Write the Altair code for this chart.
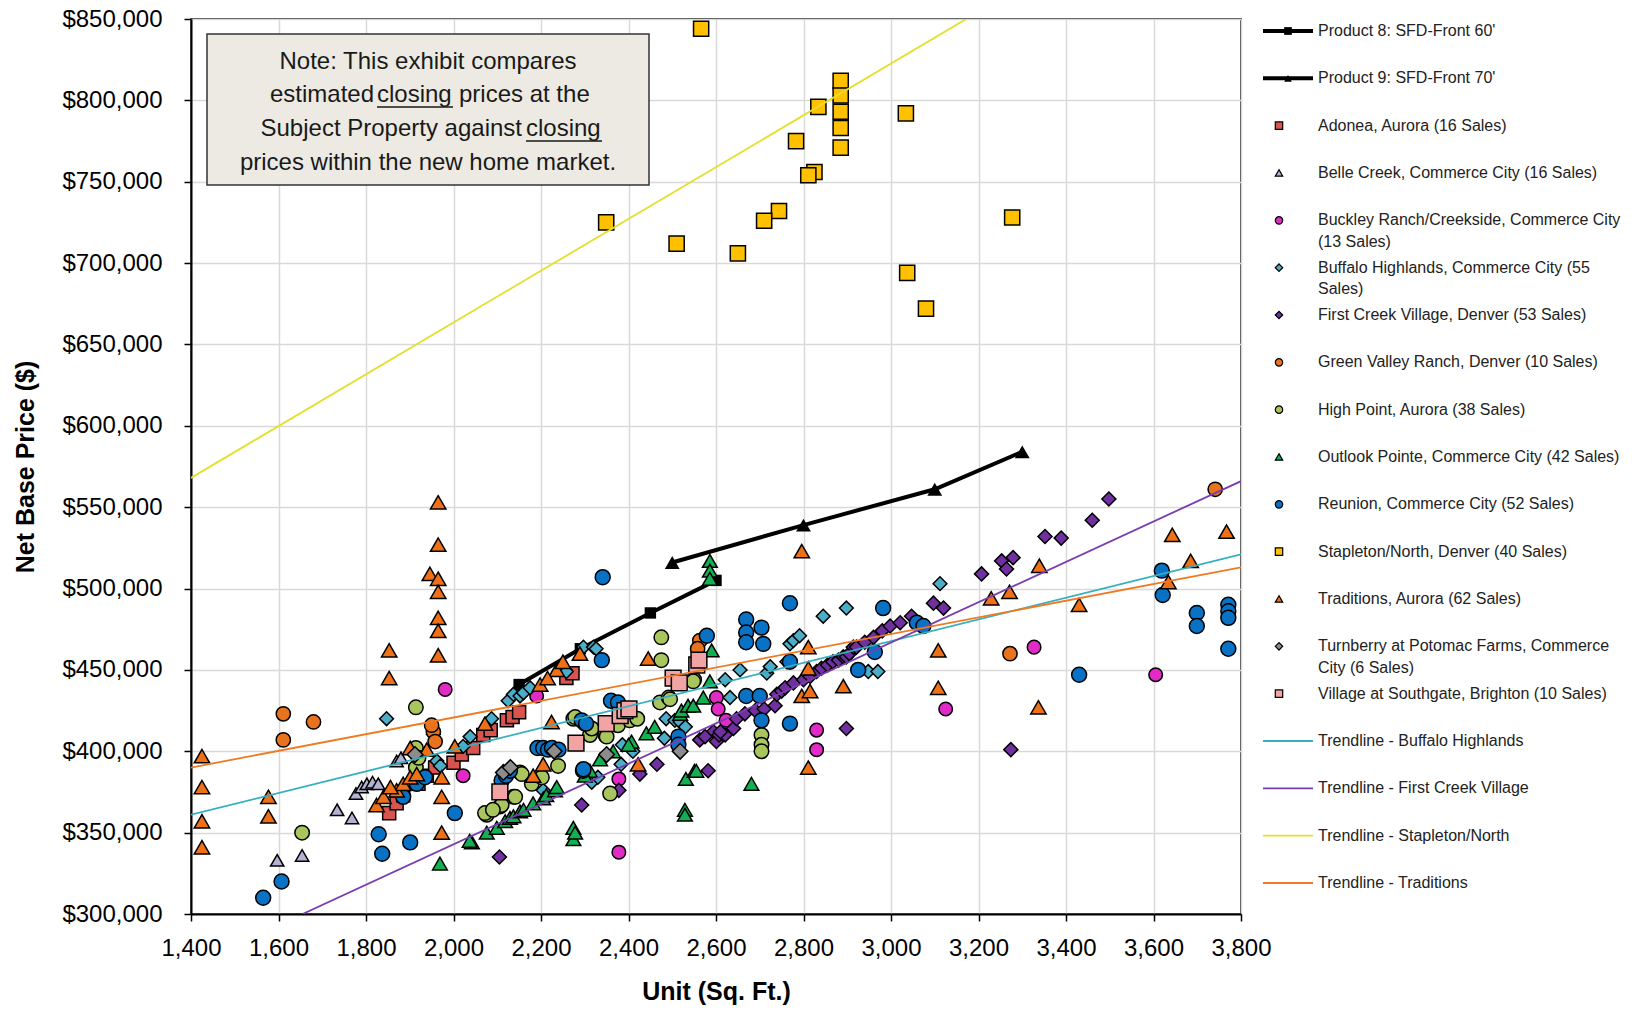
import altair as alt
import pandas as pd

# ---------------------------------------------------------------------------
# Unit size (sq. ft.) and net base price ($000s) for each community
# ---------------------------------------------------------------------------
PRODUCT8_SQFT = [2150, 2290, 2450, 2600]
PRODUCT8_PRICE = [441, 463, 485, 505]
PRODUCT9_SQFT = [2500, 2800, 3100, 3300]
PRODUCT9_PRICE = [516, 539, 561, 584]

ADONEA_SQFT = [1853, 1870, 1885, 1920, 1939, 1958, 2000, 2019, 2045, 2068, 2085, 2122, 2135, 2150, 2258, 2272]
ADONEA_PRICE = [362, 368, 373, 380, 385, 390, 393, 398, 402, 410, 413, 419, 421, 424, 445, 448]

BELLE_SQFT = [1597, 1654, 1734, 1768, 1777, 1790, 1802, 1815, 1828, 1870, 1880, 1954]
BELLE_PRICE = [333, 336, 364, 359, 374, 378, 380, 381, 380, 394, 396, 414]

BUCKLEY_SQFT = [1981, 2022, 2190, 2378, 2378, 2601, 2605, 2623, 2830, 2830, 3125, 3327, 3605]
BUCKLEY_PRICE = [438, 385, 434, 338, 383, 433, 426, 419, 413, 401, 426, 464, 447]

BUFFALO_SQFT = [1847, 1962, 1970, 2022, 2038, 2087, 2125, 2137, 2152, 2160, 2175, 2205, 2255, 2258,
                2297, 2320, 2326, 2316, 2330, 2383, 2386, 2410, 2482, 2486, 2506, 2518, 2530, 2621,
                2632, 2655, 2716, 2724, 2762, 2769, 2777, 2791, 2845, 2898, 2948, 2970, 3112]
BUFFALO_PRICE = [420, 394, 391, 403, 409, 420, 431, 435, 434, 436, 439, 376, 450, 449,
                 464, 464, 463, 381, 384, 392, 404, 400, 408, 420, 419, 418, 415, 444,
                 433, 450, 448, 452, 455, 466, 468, 471, 483, 488, 449, 449, 503]

FIRSTCREEK_SQFT = [2105, 2293, 2378, 2426, 2465, 2563, 2582, 2594, 2601, 2607, 2621, 2640, 2647, 2666,
                   2690, 2710, 2735, 2739, 2750, 2758, 2777, 2800, 2815, 2830, 2841, 2855, 2867, 2880,
                   2891, 2898, 2905, 2914, 2921, 2940, 2960, 2980, 2998, 3021, 3047, 3097, 3120, 3207,
                   3253, 3264, 3279, 3352, 3389, 3460, 3498, 3274, 2898, 2610, 2575]
FIRSTCREEK_PRICE = [335, 367, 376, 386, 392, 407, 388, 412, 406, 410, 410, 414, 420, 423,
                    425, 426, 428, 435, 437, 439, 442, 444, 446, 449, 451, 453, 455, 456,
                    458, 458, 460, 464, 464, 467, 470, 474, 477, 479, 483, 491, 488, 509,
                    517, 512, 519, 532, 531, 542, 555, 401, 414, 412, 409]

GREENVALLEY_SQFT = [1611, 1611, 1680, 1954, 1958, 1950, 2563, 2558, 3272, 3741]
GREENVALLEY_PRICE = [423, 407, 418, 412, 406, 416, 468, 463, 460, 561]

HIGHPOINT_SQFT = [1654, 1914, 1914, 1914, 2076, 2072, 2106, 2110, 2137, 2141, 2152, 2156, 2179, 2202,
                  2239, 2274, 2278, 2312, 2316, 2347, 2350, 2358, 2376, 2403, 2472, 2475, 2475, 2492,
                  2495, 2550, 2548, 2704, 2704, 2704, 2300, 2420, 1920, 2090]
HIGHPOINT_PRICE = [350, 427, 402, 390, 361, 362, 366, 367, 372, 372, 387, 386, 380, 384,
                   391, 420, 421, 410, 414, 410, 409, 374, 416, 419, 430, 470, 456, 433,
                   432, 444, 443, 410, 404, 400, 417, 420, 396, 364]

OUTLOOK_SQFT = [1969, 2042, 2037, 2076, 2099, 2118, 2129, 2137, 2152, 2160, 2182, 2205, 2212, 2232,
                2236, 2274, 2274, 2278, 2312, 2335, 2365, 2407, 2441, 2518, 2521, 2536, 2548, 2571,
                2586, 2590, 2586, 2586, 2586, 2531, 2551, 2555, 2529, 2529, 2681, 2400, 2460, 2300]
OUTLOOK_PRICE = [331, 344, 345, 350, 353, 357, 359, 360, 363, 364, 368, 371, 373, 376,
                 378, 353, 346, 350, 388, 395, 400, 406, 411, 423, 425, 428, 428, 433,
                 443, 462, 517, 511, 506, 383, 388, 388, 364, 361, 380, 404, 415, 385]

REUNION_SQFT = [1565, 1607, 1829, 1837, 1901, 2003, 1885, 1916, 1935, 2110, 2120, 2129, 2192, 2205,
                2216, 2225, 2240, 2293, 2296, 2297, 2303, 2339, 2341, 2360, 2376, 2514, 2514, 2579,
                2669, 2669, 2669, 2704, 2708, 2769, 2769, 2669, 2700, 2704, 2769, 2982, 2925, 2963,
                3059, 3074, 3619, 3621, 3699, 3699, 3771, 3771, 3771, 3771, 3430]
REUNION_PRICE = [310, 320, 349, 337, 344, 362, 372, 380, 384, 382, 385, 388, 402, 402,
                 401, 402, 401, 419, 388, 389, 417, 456, 507, 431, 430, 409, 404, 471,
                 481, 473, 467, 476, 466, 491, 455, 434, 434, 419, 417, 488, 450, 461,
                 479, 477, 511, 496, 485, 477, 490, 486, 482, 463, 447]

STAPLETON_SQFT = [2566, 2885, 2885, 2885, 2885, 2885, 2834, 3034, 2783, 2825, 2811, 2744, 2710, 2510,
                  2650, 3277, 3037, 3080, 2349]
STAPLETON_PRICE = [844, 812, 803, 793, 783, 771, 796, 792, 775, 756, 754, 732, 726, 712,
                   706, 728, 694, 672, 725]

TRADITIONS_SQFT = [1425, 1425, 1425, 1425, 1577, 1577, 1824, 1853, 1853, 1870, 1885, 1901, 1916, 1901,
                   1939, 1946, 1965, 1965, 1965, 1965, 1965, 1965, 1965, 1973, 1973, 1973, 2003, 2072,
                   2182, 2205, 2198, 2224, 2236, 2289, 2422, 2445, 2796, 2811, 2811, 2796, 2815, 2891,
                   2811, 3108, 3108, 3229, 3271, 3339, 3337, 3430, 3643, 3634, 3685, 3767, 1840, 1856,
                   2215, 2250]
TRADITIONS_PRICE = [397, 378, 357, 341, 372, 360, 367, 462, 445, 376, 380, 384, 386, 402,
                    401, 509, 553, 527, 506, 498, 482, 474, 459, 384, 372, 350, 403, 417,
                    385, 392, 441, 418, 450, 460, 392, 457, 523, 464, 451, 434, 437, 440,
                    390, 462, 439, 494, 498, 514, 427, 490, 533, 504, 517, 535, 372, 378,
                    445, 455]

TURNBERRY_SQFT = [1912, 2114, 2130, 2230, 2350, 2518]
TURNBERRY_PRICE = [398, 387, 390, 400, 398, 400]

SOUTHGATE_SQFT = [2106, 2280, 2349, 2381, 2392, 2401, 2502, 2516, 2556, 2561]
SOUTHGATE_PRICE = [375, 405, 417, 422, 425, 426, 445, 442, 453, 456]

# Trendline end points (sq. ft., $000s)
TREND_NAMES = ["Trendline - Buffalo Highlands", "Trendline - First Creek Village",
               "Trendline - Stapleton/North", "Trendline - Traditions"]
TREND_X = [[1400, 3800], [1655, 3800], [1400, 3172], [1400, 3800]]
TREND_Y = [[361, 521], [300, 566], [568, 850], [390, 513]]
TREND_COLORS = ["#35AFC0", "#7A3DB0", "#E3E02C", "#F07A22"]

PRODUCT_NAMES = ["Product 8: SFD-Front 60'", "Product 9: SFD-Front 70'"]
PRODUCT_SHAPES = ["square", "triangle-up"]

SERIES_NAMES = [
    "Adonea, Aurora (16 Sales)",
    "Belle Creek, Commerce City (16 Sales)",
    "Buckley Ranch/Creekside, Commerce City (13 Sales)",
    "Buffalo Highlands, Commerce City (55 Sales)",
    "First Creek Village, Denver (53 Sales)",
    "Green Valley Ranch, Denver (10 Sales)",
    "High Point, Aurora (38 Sales)",
    "Outlook Pointe, Commerce City (42 Sales)",
    "Reunion, Commerce City (52 Sales)",
    "Stapleton/North, Denver (40 Sales)",
    "Traditions, Aurora (62 Sales)",
    "Turnberry at Potomac Farms, Commerce City (6 Sales)",
    "Village at Southgate, Brighton (10 Sales)",
]
SERIES_SQFT = [ADONEA_SQFT, BELLE_SQFT, BUCKLEY_SQFT, BUFFALO_SQFT, FIRSTCREEK_SQFT, GREENVALLEY_SQFT,
               HIGHPOINT_SQFT, OUTLOOK_SQFT, REUNION_SQFT, STAPLETON_SQFT, TRADITIONS_SQFT,
               TURNBERRY_SQFT, SOUTHGATE_SQFT]
SERIES_PRICE = [ADONEA_PRICE, BELLE_PRICE, BUCKLEY_PRICE, BUFFALO_PRICE, FIRSTCREEK_PRICE,
                GREENVALLEY_PRICE, HIGHPOINT_PRICE, OUTLOOK_PRICE, REUNION_PRICE, STAPLETON_PRICE,
                TRADITIONS_PRICE, TURNBERRY_PRICE, SOUTHGATE_PRICE]
SERIES_SHAPES = ["square", "triangle-up", "circle", "diamond", "diamond", "circle", "circle",
                 "triangle-up", "circle", "square", "triangle-up", "diamond", "square"]
SERIES_FILLS = ["#D9544F", "#B4B2D4", "#E22BC6", "#4BADC8", "#7030A0", "#E8731E", "#A9C55E",
                "#12B052", "#0A72C4", "#FFC000", "#F07018", "#8C8C8C", "#F2A3A3"]
SERIES_OUTLINE = [1, 1, 0, 0, 1, 1, 1, 0, 0, 1, 0, 0, 1]
SERIES_SIZES = [170, 250, 220, 250, 210, 190, 160, 260, 220, 240, 260, 230, 220]

# Legend text, wrapped as in the key
LEGEND_LINES = [
    ["Product 8: SFD-Front 60'"],
    ["Product 9: SFD-Front 70'"],
    ["Adonea, Aurora (16 Sales)"],
    ["Belle Creek, Commerce City (16 Sales)"],
    ["Buckley Ranch/Creekside, Commerce City", "(13 Sales)"],
    ["Buffalo Highlands, Commerce City (55", "Sales)"],
    ["First Creek Village, Denver (53 Sales)"],
    ["Green Valley Ranch, Denver (10 Sales)"],
    ["High Point, Aurora (38 Sales)"],
    ["Outlook Pointe, Commerce City (42 Sales)"],
    ["Reunion, Commerce City (52 Sales)"],
    ["Stapleton/North, Denver (40 Sales)"],
    ["Traditions, Aurora (62 Sales)"],
    ["Turnberry at Potomac Farms, Commerce", "City (6 Sales)"],
    ["Village at Southgate, Brighton (10 Sales)"],
    ["Trendline - Buffalo Highlands"],
    ["Trendline - First Creek Village"],
    ["Trendline - Stapleton/North"],
    ["Trendline - Traditions"],
]

FONT = "Liberation Sans"
W, H = 1050, 895

# ---------------------------------------------------------------------------
# Tables
# ---------------------------------------------------------------------------
point_rows = []
for name, xs, ys in zip(SERIES_NAMES, SERIES_SQFT, SERIES_PRICE):
    for x, y in zip(xs, ys):
        point_rows.append({"series": name, "sqft": x, "price": y * 1000})
points_df = pd.DataFrame(point_rows)

product_rows = []
for name, xs, ys in zip(PRODUCT_NAMES, [PRODUCT8_SQFT, PRODUCT9_SQFT], [PRODUCT8_PRICE, PRODUCT9_PRICE]):
    for x, y in zip(xs, ys):
        product_rows.append({"product": name, "sqft": x, "price": y * 1000})
products_df = pd.DataFrame(product_rows)

trend_rows = []
for name, xs, ys in zip(TREND_NAMES, TREND_X, TREND_Y):
    for x, y in zip(xs, ys):
        trend_rows.append({"trend": name, "sqft": x, "price": y * 1000})
trend_df = pd.DataFrame(trend_rows)

x_enc = alt.X("sqft:Q", scale=alt.Scale(domain=[1400, 3800], nice=False, zero=False),
              axis=alt.Axis(values=list(range(1400, 3801, 200)), format=",d", title="Unit  (Sq. Ft.)",
                            labelPadding=15, titlePadding=19))
y_enc = alt.Y("price:Q", scale=alt.Scale(domain=[300000, 850000], nice=False, zero=False),
              axis=alt.Axis(values=list(range(300000, 850001, 50000)), format="$,d",
                            title="Net  Base Price  ($)", labelPadding=22, titlePadding=23))

# ---------------------------------------------------------------------------
# Plot panel
# ---------------------------------------------------------------------------
base_products = alt.Chart(products_df)
product_lines = base_products.mark_line(color="black", strokeWidth=4).encode(
    x=x_enc, y=y_enc, detail="product:N")
product_points = base_products.mark_point(filled=True, color="black", opacity=1).encode(
    x="sqft:Q", y="price:Q",
    shape=alt.Shape("product:N", scale=alt.Scale(domain=PRODUCT_NAMES, range=PRODUCT_SHAPES), legend=None),
    size=alt.Size("product:N", scale=alt.Scale(domain=PRODUCT_NAMES, range=[130, 220]), legend=None))

scatter = alt.Chart(points_df).mark_point(filled=True, opacity=1, stroke="black", strokeWidth=1.5).encode(
    x="sqft:Q", y="price:Q",
    shape=alt.Shape("series:N", scale=alt.Scale(domain=SERIES_NAMES, range=SERIES_SHAPES), legend=None),
    fill=alt.Fill("series:N", scale=alt.Scale(domain=SERIES_NAMES, range=SERIES_FILLS), legend=None),
    strokeOpacity=alt.StrokeOpacity("series:N", scale=alt.Scale(domain=SERIES_NAMES, range=SERIES_OUTLINE),
                                    legend=None),
    size=alt.Size("series:N", scale=alt.Scale(domain=SERIES_NAMES, range=SERIES_SIZES), legend=None),
)

trends = alt.Chart(trend_df).mark_line(strokeWidth=1.8, clip=True).encode(
    x="sqft:Q", y="price:Q",
    color=alt.Color("trend:N", scale=alt.Scale(domain=TREND_NAMES, range=TREND_COLORS), legend=None))

# Note box in the upper-left corner of the plot
anchor = pd.DataFrame({"k": [0]})
note_box = alt.Chart(anchor).mark_rect(fill="#ECEAE2", stroke="#333333", strokeWidth=1.5).encode(
    x=alt.value(16), x2=alt.value(458), y=alt.value(15), y2=alt.value(166))


def note_text(text, x, y, align):
    return alt.Chart(anchor).mark_text(text=text, font=FONT, fontSize=24, color="#1A1A1A",
                                       align=align, baseline="middle").encode(
        x=alt.value(x), y=alt.value(y))


def underline(x0, x1, y):
    return alt.Chart(anchor).mark_rule(color="#1A1A1A", strokeWidth=1.5).encode(
        x=alt.value(x0), x2=alt.value(x1), y=alt.value(y))


note_layers = [
    note_box,
    note_text("Note:  This exhibit compares", 237, 43, "center"),
    note_text("estimated", 183, 76, "right"),
    note_text("closing", 186, 76, "left"),
    note_text("prices at the", 268, 76, "left"),
    underline(186, 262, 88),
    note_text("Subject Property against", 331, 110, "right"),
    note_text("closing", 335, 110, "left"),
    underline(335, 411, 122),
    note_text("prices within the new home market.", 237, 144, "center"),
]

plot = alt.layer(product_lines, product_points, scatter, trends, *note_layers).resolve_scale(
    shape="independent", size="independent",
).properties(
    width=W, height=H, view=alt.ViewBackground(stroke="black", strokeWidth=1.5))

# ---------------------------------------------------------------------------
# Legend panel
# ---------------------------------------------------------------------------
legend_keys = PRODUCT_NAMES + SERIES_NAMES + TREND_NAMES
slot_scale = alt.Scale(domain=[0, 18], range=[12, 864])

text_rows = []
for i, lines in enumerate(LEGEND_LINES):
    for j, line in enumerate(lines):
        text_rows.append({"slot": i + j * 0.455, "label": line})
legend_text = alt.Chart(pd.DataFrame(text_rows)).mark_text(
    align="left", baseline="middle", font=FONT, fontSize=16, color="#222222").encode(
    x=alt.value(77), y=alt.Y("slot:Q", scale=slot_scale, axis=None), text="label:N")

line_keys = PRODUCT_NAMES + TREND_NAMES
line_df = pd.DataFrame({
    "key": line_keys,
    "slot": [legend_keys.index(k) for k in line_keys],
    "kind": ["product"] * len(PRODUCT_NAMES) + ["trend"] * len(TREND_NAMES),
})
legend_lines = alt.Chart(line_df).mark_rule().encode(
    x=alt.value(22), x2=alt.value(72),
    y=alt.Y("slot:Q", scale=slot_scale, axis=None),
    color=alt.Color("key:N", scale=alt.Scale(domain=line_keys, range=["black", "black"] + TREND_COLORS),
                    legend=None),
    strokeWidth=alt.StrokeWidth("kind:N", scale=alt.Scale(domain=["product", "trend"], range=[4, 1.8]),
                                legend=None))

prod_key_df = pd.DataFrame({"key": PRODUCT_NAMES, "slot": [0, 1]})
legend_prod_marks = alt.Chart(prod_key_df).mark_point(filled=True, color="black", opacity=1, size=60).encode(
    x=alt.value(47), y=alt.Y("slot:Q", scale=slot_scale, axis=None),
    shape=alt.Shape("key:N", scale=alt.Scale(domain=PRODUCT_NAMES, range=PRODUCT_SHAPES), legend=None))

series_key_df = pd.DataFrame({"key": SERIES_NAMES, "slot": [legend_keys.index(k) for k in SERIES_NAMES]})
legend_series_marks = alt.Chart(series_key_df).mark_point(
    filled=True, opacity=1, stroke="black", strokeWidth=1.2, size=55).encode(
    x=alt.value(38), y=alt.Y("slot:Q", scale=slot_scale, axis=None),
    shape=alt.Shape("key:N", scale=alt.Scale(domain=SERIES_NAMES, range=SERIES_SHAPES), legend=None),
    fill=alt.Fill("key:N", scale=alt.Scale(domain=SERIES_NAMES, range=SERIES_FILLS), legend=None),
    strokeOpacity=alt.StrokeOpacity("key:N", scale=alt.Scale(domain=SERIES_NAMES, range=SERIES_OUTLINE),
                                    legend=None))

legend_panel = alt.layer(legend_lines, legend_prod_marks, legend_series_marks, legend_text).resolve_scale(
    shape="independent",
).properties(width=400, height=H)

chart = alt.hconcat(plot, legend_panel, spacing=0, bounds="flush").resolve_scale(
    x="independent", y="independent", shape="independent", fill="independent",
    strokeOpacity="independent", size="independent", color="independent", strokeWidth="independent",
).properties(
    padding={"left": 13, "top": 6, "right": 0, "bottom": 0},
    background="white",
).configure_view(
    strokeWidth=0,
).configure_axis(
    labelFont=FONT, labelFontSize=24, labelColor="black", labelFlush=False, labelOverlap=False,
    titleFont=FONT, titleFontSize=25, titleFontWeight="bold", titleColor="black",
    tickColor="black", tickSize=7, tickWidth=1.5,
    domainColor="black", domainWidth=2,
    grid=True, gridColor="#D9D9D9", gridWidth=1.5,
)

chart.save("out.html", embed_options={"renderer": "svg", "actions": False})
